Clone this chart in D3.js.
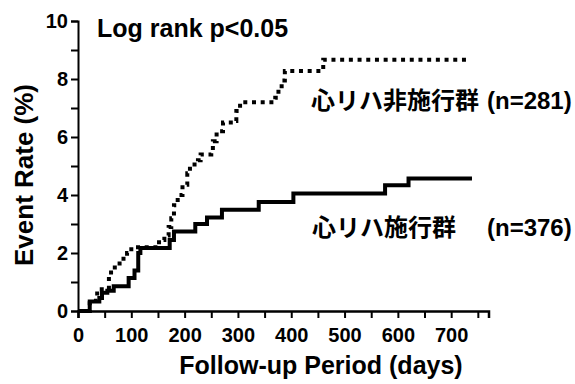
<!DOCTYPE html>
<meta charset="utf-8">
<body style="margin:0;background:#fff">
<script src="https://d3js.org/d3.v7.min.js"></script>
<script>
  // 心リハ施行群 (solid)
  var daysRehab = [0, 22, 40, 45, 55, 67, 95, 106, 113, 117, 172, 180, 220, 242, 270, 339, 404, 576, 620, 739];
  var rateRehab = [0, 0.33, 0.45, 0.63, 0.7, 0.85, 1.14, 1.4, 2.0, 2.17, 2.45, 2.74, 3.0, 3.22, 3.49, 3.76, 4.05, 4.34, 4.57, 4.57];
  // 心リハ非施行群 (dotted)
  var daysNone = [0, 22, 36, 58, 62, 78, 92, 100, 152, 162, 170, 175, 180, 187, 196, 205, 210, 225, 230, 250, 253, 260, 272, 292, 297, 304, 370, 376, 382, 388, 460, 736];
  var rateNone = [0, 0.35, 0.75, 1.2, 1.5, 1.8, 2.0, 2.2, 2.45, 2.6, 2.9, 3.2, 3.65, 4.0, 4.35, 4.75, 5.05, 5.2, 5.4, 5.5, 5.85, 6.2, 6.5, 6.55, 6.9, 7.2, 7.35, 7.65, 7.95, 8.28, 8.66, 8.66];
  var xTicks = [0, 50, 100, 150, 200, 250, 300, 350, 400, 450, 500, 550, 600, 650, 700, 750];
  var yTicks = [0, 1, 2, 3, 4, 5, 6, 7, 8, 9, 10];

  var font = "'Liberation Sans', Arial, 'Noto Sans CJK JP', sans-serif";

  var svg = d3.select("body").append("svg")
      .attr("width", 575)
      .attr("height", 384)
      .style("font-family", font)
      .style("font-weight", "bold");

  var x = d3.scaleLinear().domain([0, 770]).range([78, 488.5]);
  var y = d3.scaleLinear().domain([0, 10]).range([311, 21]);

  var line = d3.line()
      .x(function(d) { return x(d[0]); })
      .y(function(d) { return y(d[1]); })
      .curve(d3.curveStepAfter);

  // 轴
  var xAxis = svg.append("g")
      .attr("transform", "translate(0," + y(0) + ")")
      .call(d3.axisBottom(x).tickValues(xTicks).tickSizeOuter(0).tickSize(7).tickPadding(10)
          .tickFormat(function(d) { return d % 100 === 0 ? d : ""; }));
  xAxis.select(".domain").attr("stroke-width", 2.5);
  xAxis.selectAll(".tick line").attr("stroke-width", 2);
  xAxis.selectAll("text").style("font-size", "20px").style("font-family", font);

  var yAxis = svg.append("g")
      .attr("transform", "translate(" + x(0) + ",0)")
      .call(d3.axisLeft(y).tickValues(yTicks).tickSizeOuter(0).tickSize(7).tickPadding(3)
          .tickFormat(function(d) { return d % 2 === 0 ? d : ""; }));
  yAxis.select(".domain").attr("stroke-width", 2);
  yAxis.selectAll(".tick line").attr("stroke-width", 2);
  yAxis.selectAll("text").style("font-size", "20px").style("font-family", font);

  // curves
  svg.append("path")
      .datum(d3.zip(daysNone, rateNone))
      .attr("d", line)
      .attr("fill", "none")
      .attr("stroke", "#000")
      .attr("stroke-width", 4)
      .attr("stroke-dasharray", "4,4.7");

  svg.append("path")
      .datum(d3.zip(daysRehab, rateRehab))
      .attr("d", line)
      .attr("fill", "none")
      .attr("stroke", "#000")
      .attr("stroke-width", 4);

  // labels
  svg.append("text").attr("x", 97).attr("y", 37)
      .style("font-size", "25px").text("Log rank p<0.05");

  var t1 = svg.append("text").attr("y", 109).style("font-size", "24px");
  t1.append("tspan").attr("x", 311).text("心リハ非施行群");
  t1.append("tspan").attr("x", 487).text("(n=281)");

  var t2 = svg.append("text").attr("y", 236).style("font-size", "24px");
  t2.append("tspan").attr("x", 312).text("心リハ施行群");
  t2.append("tspan").attr("x", 487).text("(n=376)");

  svg.append("text")
      .attr("transform", "translate(33,175) rotate(-90)")
      .attr("text-anchor", "middle")
      .style("font-size", "26px").text("Event Rate (%)");

  svg.append("text").attr("x", 321).attr("y", 374)
      .attr("text-anchor", "middle")
      .style("font-size", "25px").text("Follow-up Period (days)");
</script>
</body>
